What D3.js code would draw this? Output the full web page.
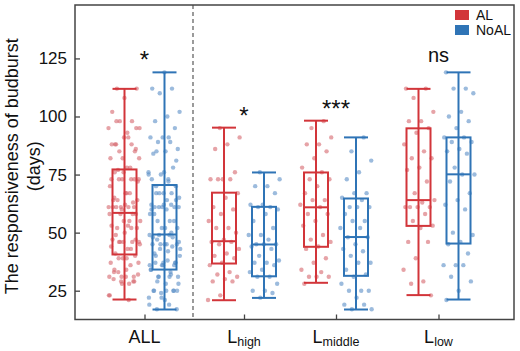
<!DOCTYPE html>
<html>
<head>
<meta charset="utf-8">
<style>
  body { margin: 0; background: #fff; }
  svg { display: block; font-family: "Liberation Sans", Arial, sans-serif; }
</style>
</head>
<body>
<svg id="chart" width="520" height="351"></svg>
<script src="https://cdn.jsdelivr.net/npm/d3@7"></script>
<script>
  var width = 520;
  var height = 351;

  var groups = ["ALL", "Lhigh", "Lmiddle", "Llow"];
  var groupLabels = [["ALL", ""], ["L", "high"], ["L", "middle"], ["L", "low"]];
  var series = ["AL", "NoAL"];
  var signif = ["*", "*", "***", "ns"];
  var yTicks = [25, 50, 75, 100, 125];

  // box stats: [min, q1, median, q3, max]
  var alStats = [[21.2, 40.6, 58.5, 77.2, 111.9], [20.9, 36.7, 46.3, 67.2, 95.2], [28.4, 43.9, 60.9, 75.9, 98.2], [23.1, 52.9, 64, 94.9, 111.9]];
  var noalStats = [[16.9, 34.1, 49.2, 70.5, 119], [21.9, 31.2, 44.9, 61.1, 75.9], [16.9, 31.4, 48.1, 64.7, 91], [21.2, 45.3, 75.1, 91, 119]];

  // individual points (days)
  var alHigh = [95, 91, 88, 86, 76, 73, 73, 73, 73, 67, 65, 61, 60, 58, 55, 52, 52, 50, 47, 46, 46, 45, 43, 41, 40, 39, 37, 36, 33, 32, 31, 30, 29, 29, 23, 21];
  var alMiddle = [98, 95, 91, 88, 88, 85, 82, 78, 76, 73, 73, 70, 67, 64, 64, 62, 61, 58, 58, 55, 53, 49, 47, 46, 44, 43, 39, 37, 34, 33, 31, 31, 31, 28];
  var alLow = [112, 112, 108, 102, 98, 98, 95, 93, 88, 85, 82, 82, 78, 77, 72, 67, 64, 63, 61, 61, 61, 61, 58, 55, 53, 52, 46, 46, 39, 34, 29, 28, 23];
  var noalHigh = [76, 73, 70, 70, 67, 62, 62, 61, 61, 60, 58, 55, 52, 49, 49, 47, 45, 45, 45, 44, 43, 40, 38, 37, 37, 36, 34, 33, 31, 31, 28, 25, 25, 24, 22];
  var noalMiddle = [91, 85, 81, 76, 73, 67, 67, 65, 64, 61, 61, 61, 58, 55, 55, 52, 52, 48, 48, 45, 43, 42, 40, 37, 37, 34, 32, 31, 28, 25, 25, 25, 22, 19, 19, 17, 17];
  var noalLow = [119, 112, 112, 110, 102, 100, 98, 95, 91, 91, 89, 89, 86, 85, 84, 78, 75, 75, 72, 67, 64, 62, 60, 50, 49, 46, 45, 41, 36, 36, 36, 31, 29, 25, 21];

  var alPoints = [alHigh.concat(alMiddle, alLow), alHigh, alMiddle, alLow];
  var noalPoints = [noalHigh.concat(noalMiddle, noalLow), noalHigh, noalMiddle, noalLow];

  var colors = { AL: "#d2353a", NoAL: "#2f74b6" };
  var pointColors = { AL: "#d6656d", NoAL: "#5a8ec6" };

  var plotL = 75, plotR = 514, plotT = 5, plotB = 319.5;

  var y = d3.scaleLinear().domain([12.6, 148]).range([plotB, plotT]);
  var x = d3.scaleOrdinal().domain(groups).range([144.5, 244, 336, 438.5]);
  var off = d3.scaleOrdinal().domain(series).range([-20, 20]);
  var boxW = 24;

  const svg = d3.select("svg#chart");

  // points
  series.forEach(function(s) {
    var pts = s == "AL" ? alPoints : noalPoints;
    groups.forEach(function(g, gi) {
      svg.append("g")
        .selectAll("circle")
        .data(pts[gi])
        .enter().append("circle")
        .attr("cx", (d, i) => x(g) + off(s) + (((i * 0.618034 + gi * 0.37) % 1) - 0.5) * 32)
        .attr("cy", d => y(d))
        .attr("r", 2.2)
        .attr("fill", pointColors[s])
        .attr("fill-opacity", 0.6);
    });
  });

  // boxes
  series.forEach(function(s) {
    var stats = s == "AL" ? alStats : noalStats;
    groups.forEach(function(g, gi) {
      var st = stats[gi];
      var cx = x(g) + off(s);
      var bg = svg.append("g")
        .attr("stroke", colors[s])
        .attr("stroke-width", 2)
        .attr("fill", "none");
      bg.append("line").attr("x1", cx).attr("x2", cx).attr("y1", y(st[0])).attr("y2", y(st[4]));
      bg.append("line").attr("x1", cx - boxW / 2).attr("x2", cx + boxW / 2).attr("y1", y(st[0])).attr("y2", y(st[0]));
      bg.append("line").attr("x1", cx - boxW / 2).attr("x2", cx + boxW / 2).attr("y1", y(st[4])).attr("y2", y(st[4]));
      bg.append("rect")
        .attr("x", cx - boxW / 2)
        .attr("y", y(st[3]))
        .attr("width", boxW)
        .attr("height", y(st[1]) - y(st[3]));
      bg.append("line").attr("x1", cx - boxW / 2).attr("x2", cx + boxW / 2).attr("y1", y(st[2])).attr("y2", y(st[2]));
    });
  });

  // significance labels
  svg.append("g")
    .selectAll("text")
    .data(groups)
    .enter().append("text")
    .attr("x", d => x(d))
    .attr("y", (d, i) => y(Math.max(alStats[i][4], noalStats[i][4])) - (signif[i] == "ns" ? 10 : 4))
    .attr("text-anchor", "middle")
    .attr("font-size", (d, i) => signif[i] == "ns" ? 20 : 24)
    .attr("fill", "#111")
    .text((d, i) => signif[i]);

  // dashed separator
  svg.append("line")
    .attr("x1", 193).attr("x2", 193)
    .attr("y1", plotT).attr("y2", plotB)
    .attr("stroke", "#666")
    .attr("stroke-width", 1.3)
    .attr("stroke-dasharray", "4,3");

  // axes
  var yAxis = svg.append("g")
    .attr("transform", `translate(${plotL},0)`)
    .call(d3.axisLeft(y).tickValues(yTicks).tickSizeInner(-5).tickSizeOuter(0).tickPadding(8));
  yAxis.select(".domain").remove();
  yAxis.selectAll("line").attr("stroke", "#444").attr("stroke-width", 1.3);
  yAxis.selectAll("text").attr("font-size", 17).attr("fill", "#111").attr("font-family", "Liberation Sans, Arial, sans-serif");

  var xAxis = svg.append("g")
    .attr("transform", `translate(0,${plotB})`)
    .call(d3.axisBottom(x).tickSizeInner(-5).tickSizeOuter(0).tickFormat(""));
  xAxis.select(".domain").remove();
  xAxis.selectAll("line").attr("stroke", "#444").attr("stroke-width", 1.3);

  var xl = svg.append("g")
    .selectAll("text")
    .data(groups)
    .enter().append("text")
    .attr("x", d => x(d))
    .attr("y", 343)
    .attr("text-anchor", "middle")
    .attr("font-size", 18)
    .attr("fill", "#111");
  xl.append("tspan").text((d, i) => groupLabels[i][0]);
  xl.append("tspan").attr("font-size", 12.5).attr("dy", 3).text((d, i) => groupLabels[i][1]);

  // frame
  svg.append("rect")
    .attr("x", plotL).attr("y", plotT)
    .attr("width", plotR - plotL).attr("height", plotB - plotT)
    .attr("fill", "none")
    .attr("stroke", "#444")
    .attr("stroke-width", 1.5);

  // y title
  var yt = svg.append("text")
    .attr("transform", `translate(18,${(plotT + plotB) / 2 + 4}) rotate(-90)`)
    .attr("text-anchor", "middle")
    .attr("font-size", 18)
    .attr("fill", "#111");
  yt.append("tspan").attr("x", 0).attr("dy", 0).text("The responsiveness of budburst");
  yt.append("tspan").attr("x", 0).attr("dy", 22).text("(days)");

  // legend
  var lg = svg.append("g")
    .selectAll("g")
    .data(series)
    .enter().append("g")
    .attr("transform", (d, i) => `translate(455,${10 + i * 15})`);
  lg.append("rect").attr("width", 14).attr("height", 10).attr("fill", d => colors[d]);
  lg.append("text").attr("x", 21).attr("y", 9.5).attr("font-size", 14).attr("fill", "#111").text(d => d);
</script>
</body>
</html>
